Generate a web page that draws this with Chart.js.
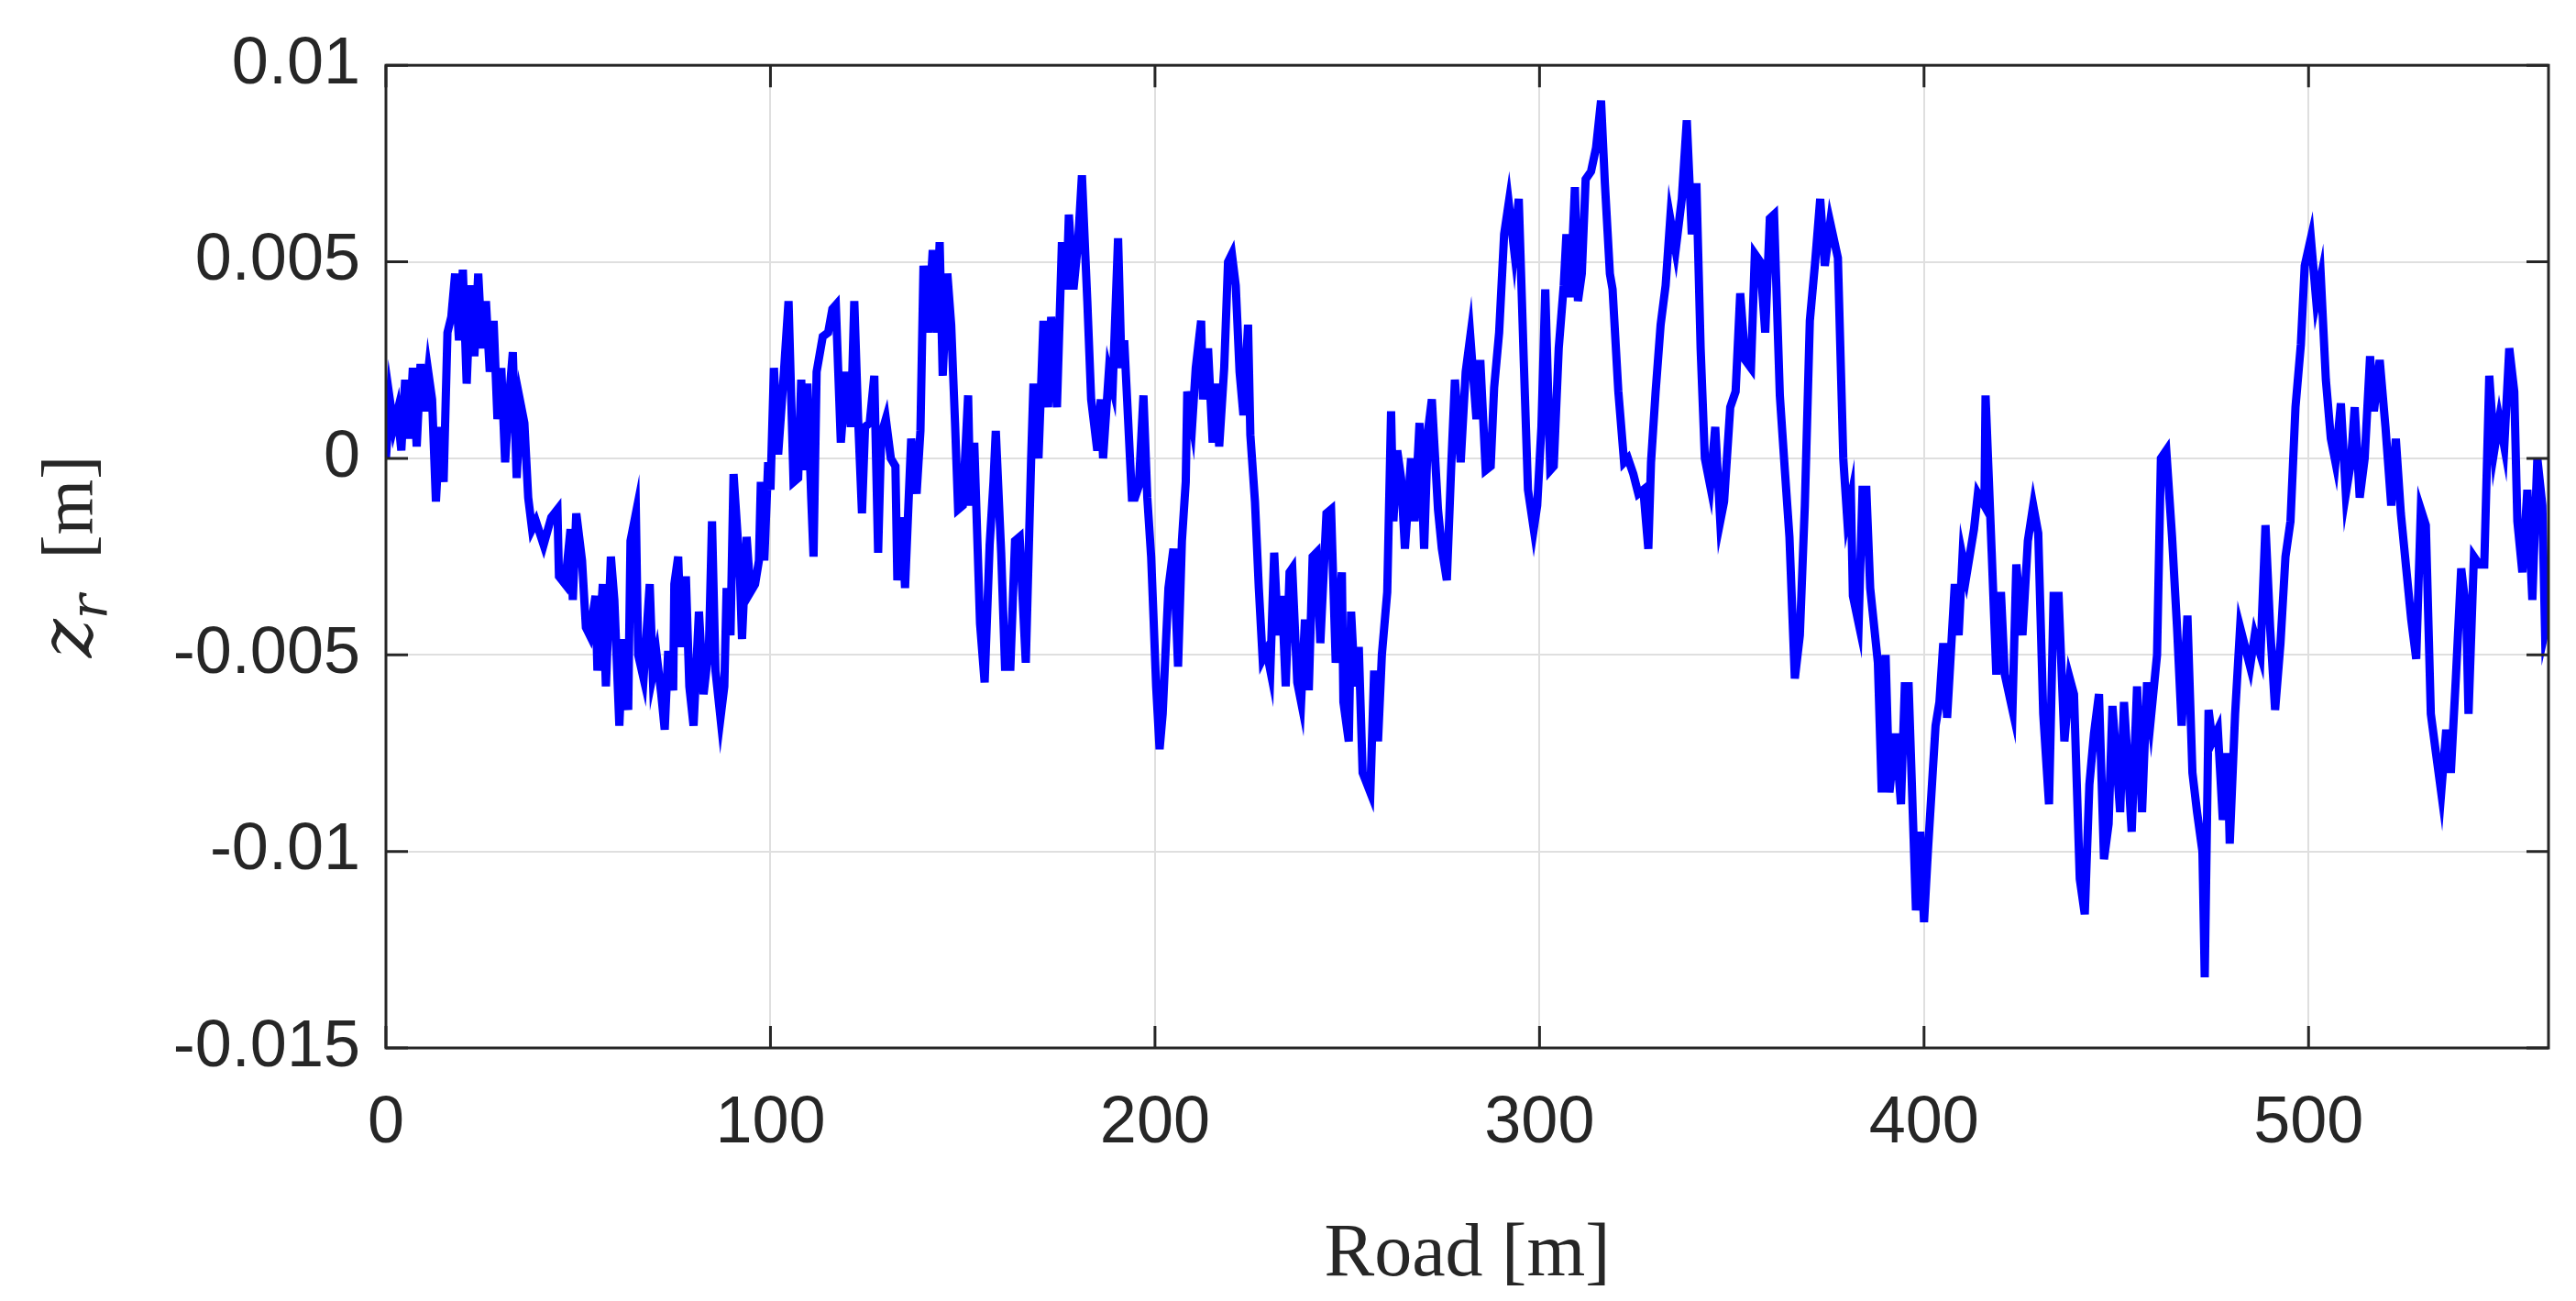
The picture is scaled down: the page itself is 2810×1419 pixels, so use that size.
<!DOCTYPE html>
<html>
<head>
<meta charset="utf-8">
<script src="https://cdn.jsdelivr.net/npm/chart.js@4.4.1/dist/chart.umd.min.js"></script>
<style>
  html, body { margin: 0; padding: 0; background: #fff; }
  #wrap { width: 2810px; height: 1419px; }
</style>
</head>
<body>
<div id="wrap"><canvas id="roadChart"></canvas></div>
<script>
// road position [m]
var roadX = [0,1,2,3,4,5,6,7,8,9,10,11,12,13,14,15,16,17,18,19,20,21,22,23,24,25,26,27,28,29,30,31,32,33,34,35,36,37,38,39,41,43,44.6,45,46.6,48,48.6,49.5,51,52,53,54.5,55,56.4,57.2,58.5,59.4,60.7,61.6,63,63.6,65,65.6,67,68.6,69.4,70.4,71.6,72.5,73.4,74.7,75,76,76.8,78,78.9,80,81.4,82.6,84,84.8,85.7,87,88,88.6,89.6,90.4,91.4,92.1,92.6,93.8,94.8,96,97,97.5,98.4,99.4,100,100.9,102,103.3,104.7,106,107.2,108,108.8,109.6,110.6,111.2,112,113.6,115,116.1,117,118.3,119.7,120.9,121.8,122.8,123.8,124.6,125.8,127,128,128.8,130,131.3,132.5,133,134.2,135,136,136.6,138,139,139.8,141,142.2,143.2,144,144.8,146,147,148,148.8,150,151.4,152,153,154.5,155.7,157,158,158.6,160,161,162.4,163.6,164.8,166.4,167.8,168.4,169.7,171,172.2,173,174.5,175.8,177,177.6,178.8,180,181,182.4,183.4,185,185.9,186.5,188,189,190.4,191.3,192,193,194,194.8,195.8,197,198,199,199.6,200.3,201.2,202,203.5,204.8,206,207,208,208.4,209.7,210.6,212,212.5,213.8,215,215.7,216.7,218,219,220,221,222,223,224.2,224.8,226,227,228,229,230,231,232,233,234,235,235.7,237,238,239,240,241,242,243,244.6,245.8,247,248.6,249,250.4,251,252,253,254,256,257,258,259,260.4,261.4,262,263,264,265,266.6,267.5,268.8,270,271,272,273.6,274.6,275.9,277,278,279.5,280.8,282,283.6,284.6,286,287.3,288.2,289.5,290.8,292,293.4,294.6,295.9,297,298.5,299.4,300.5,301.5,302.8,303.7,305,306.3,307,308,309.2,310,311,312,313.4,314.7,316,317,318.3,319,320.5,322,323,324.4,325.7,327,328.3,329,330.2,331.5,332.8,334,335.4,337,338.3,339.6,340.8,341.9,343,344.4,345.7,347,348,349.6,351,352.2,353.5,355,356,357.4,358.7,359.9,361,362.5,363.8,365,366.4,367.7,369,370.3,371.6,373,374.2,375.6,377.6,379,380,381,381.5,383,384,385,386,388,389,390,391,392.6,394,395,396,397.9,399,400,401,403,404,405,406,408,409,410,411,413,414,415.7,416,417.6,418.8,420,421,423,424,425.6,427,428.4,429.7,431,432.5,433.7,435,436.5,437.9,439,440.5,441.8,443,444.2,445.5,446.8,448,449,451,452,453,454,455.4,456.7,458,459,460.6,461.6,463,464.5,465.8,467,468.5,469.8,471,472.4,473,474,475,476.4,477.7,478.9,479.5,480.9,482.2,483.5,484.8,486,487.5,488.8,490,491.3,492.7,494,495.3,496.6,498,499,500.6,502,503.2,504.5,505.8,507,508.4,509.7,511,512,513.3,514.6,516,517,518.5,520,521.5,522.7,524,525.4,526.7,528,529.2,530.5,531.8,533,534.5,535.8,537,538.3,539.7,541,541.6,543,544.4,545.7,547,548.3,549.6,550.9,552.2,553.5,554.3,555.6,556.9,558.2,559.5,560.8,561.5,562.4];

// road profile z_r [m]
var roadZ = [0,0.0015,0.0008,0.0012,0.0002,0.002,0.0005,0.0023,0.0003,0.0024,0.0012,0.0022,0.0015,-0.0011,0.0008,-0.0006,0.0032,0.0036,0.0047,0.003,0.0048,0.0019,0.0044,0.0026,0.0047,0.0028,0.004,0.0022,0.0035,0.001,0.0023,-0.0001,0.0015,0.0027,-0.0005,0.0014,0.0009,-0.001,-0.0018,-0.0016,-0.0022,-0.0015,-0.0013,-0.003,-0.0032,-0.0018,-0.0036,-0.0014,-0.0026,-0.0043,-0.0045,-0.0035,-0.0054,-0.0032,-0.0058,-0.0025,-0.0036,-0.0068,-0.0046,-0.0064,-0.0021,-0.0014,-0.005,-0.0056,-0.0032,-0.0055,-0.005,-0.006,-0.0069,-0.0049,-0.0059,-0.0032,-0.0025,-0.0048,-0.003,-0.0058,-0.0068,-0.0039,-0.006,-0.0048,-0.0016,-0.0054,-0.0066,-0.0058,-0.0033,-0.0045,-0.0004,-0.0019,-0.0031,-0.0046,-0.002,-0.0034,-0.0032,-0.0026,-0.0006,-0.0026,-0.0001,-0.0008,0.0023,0.0001,0.0019,0.004,-0.0006,-0.0005,0.002,-0.0003,0.0019,-0.001,-0.0025,0.0022,0.0031,0.0032,0.0038,0.0039,0.0004,0.0022,0.0008,0.004,0.001,-0.0014,0.0008,0.0009,0.0021,-0.0024,0.0006,0.001,0,-0.0002,-0.0031,-0.0015,-0.0033,-0.0009,0.0005,-0.0009,0.0007,0.0049,0.0032,0.0053,0.0032,0.0055,0.0021,0.0047,0.0034,0.0009,-0.0013,-0.0012,0.0016,-0.0012,0.0004,-0.0042,-0.0057,-0.0022,-0.0006,0.0007,-0.0024,-0.0053,-0.0053,-0.0021,-0.002,-0.0052,0,0.0019,0,0.0035,0.0013,0.0036,0.0013,0.0055,0.0043,0.0062,0.0043,0.0055,0.0072,0.004,0.0015,0.0002,0.0015,0,0.0022,0.0018,0.0056,0.0023,0.003,0.001,-0.001,-0.001,-0.0007,0.0016,-0.001,-0.0025,-0.004,-0.0058,-0.0074,-0.0065,-0.0033,-0.0023,-0.0053,-0.0021,-0.0006,0.0017,0.0009,0.0023,0.0035,0.0015,0.0028,0.0004,0.0019,0.0003,0.0023,0.005,0.0052,0.0044,0.0022,0.0011,0.0034,0.0006,-0.0011,-0.0033,-0.0051,-0.0049,-0.0054,-0.0024,-0.0045,-0.0035,-0.0058,-0.0029,-0.0028,-0.0057,-0.0062,-0.0041,-0.0059,-0.0025,-0.0024,-0.0047,-0.0014,-0.0013,-0.0052,-0.0029,-0.0062,-0.0072,-0.0039,-0.0058,-0.0048,-0.008,-0.0085,-0.0054,-0.0072,-0.005,-0.0034,0.0012,-0.0016,0.0002,-0.0005,-0.0023,0,-0.0016,0.0009,-0.0023,0.0007,0.0015,-0.0013,-0.0023,-0.0031,-0.0003,0.002,-0.0001,0.0022,0.0031,0.001,0.0025,-0.0003,-0.0002,0.0018,0.0032,0.0057,0.0065,0.0053,0.0066,0.0025,-0.0008,-0.0018,-0.0012,0.0008,0.0043,-0.0003,-0.0002,0.0028,0.0044,0.0057,0.0041,0.0069,0.004,0.0047,0.0071,0.0073,0.0079,0.0091,0.007,0.0047,0.0043,0.0017,-0.0001,0,-0.0004,-0.0009,-0.0008,-0.0023,-0.0001,0.0017,0.0034,0.0044,0.0061,0.0053,0.0066,0.0086,0.0057,0.007,0.0028,0,-0.0007,0.0008,-0.0016,-0.0011,0.0013,0.0017,0.0042,0.0025,0.0023,0.0052,0.005,0.0032,0.0061,0.0062,0.0016,-0.0003,-0.002,-0.0056,-0.0045,-0.0012,0.0035,0.0049,0.0066,0.0049,0.006,0.0051,0,-0.0015,-0.001,-0.0035,-0.0042,-0.0008,-0.0008,-0.0033,-0.0052,-0.0085,-0.005,-0.0085,-0.007,-0.0088,-0.0058,-0.0058,-0.0115,-0.0095,-0.0118,-0.01,-0.0068,-0.0062,-0.0047,-0.0066,-0.0032,-0.0045,-0.0025,-0.003,-0.0018,-0.0009,-0.0012,0.0016,-0.0024,-0.0055,-0.0034,-0.0055,-0.0064,-0.0027,-0.0045,-0.0021,-0.0012,-0.0019,-0.0065,-0.0088,-0.0035,-0.0035,-0.0072,-0.0056,-0.006,-0.0107,-0.0116,-0.0083,-0.007,-0.006,-0.0102,-0.0093,-0.0063,-0.009,-0.0062,-0.0078,-0.0095,-0.0058,-0.009,-0.0057,-0.0066,-0.005,0,0.0002,-0.002,-0.0043,-0.0068,-0.004,-0.008,-0.009,-0.01,-0.0132,-0.0064,-0.0072,-0.0069,-0.0092,-0.0075,-0.0098,-0.0065,-0.0043,-0.0048,-0.0053,-0.0045,-0.005,-0.0017,-0.0043,-0.0064,-0.0047,-0.0025,-0.0016,0.0013,0.0029,0.0049,0.0056,0.004,0.0046,0.002,0.0005,-0.0001,0.0014,-0.0009,-0.0001,0.0013,-0.001,0,0.0026,0.0012,0.0025,0.0008,-0.0012,0.0005,-0.0014,-0.0028,-0.0041,-0.0051,-0.0013,-0.0017,-0.0065,-0.0074,-0.0085,-0.0069,-0.008,-0.0056,-0.0028,-0.0039,-0.0065,-0.0025,-0.0027,-0.0027,0.0021,0.0002,0.001,0.0003,0.0028,0.0017,-0.0016,-0.0029,-0.0008,-0.0036,0,-0.0012,-0.0044,-0.004];

var xTicks = [0, 100, 200, 300, 400, 500];
var yTickLabels = ['-0.015', '-0.01', '-0.005', '0', '0.005', '0.01'];
var yTickValues = [-0.015, -0.01, -0.005, 0, 0.005, 0.01];

var points = roadX.map(function (x, i) { return { x: x, y: roadZ[i] }; });

var frameBox = {
    id: 'frameBox',
    afterDraw: function (chart) {
        var a = chart.chartArea, ctx = chart.ctx;
        ctx.save();
        ctx.strokeStyle = '#262626';
        ctx.lineWidth = 3;
        ctx.strokeRect(a.left, a.top, a.right - a.left, a.bottom - a.top);
        // inner tick marks
        ctx.beginPath();
        var sx = chart.scales.x, sy = chart.scales.y;
        xTicks.forEach(function (t) {
            var px = sx.getPixelForValue(t);
            ctx.moveTo(px, a.bottom); ctx.lineTo(px, a.bottom - 24);
            ctx.moveTo(px, a.top); ctx.lineTo(px, a.top + 24);
        });
        yTickValues.forEach(function (t) {
            var py = sy.getPixelForValue(t);
            ctx.moveTo(a.left, py); ctx.lineTo(a.left + 24, py);
            ctx.moveTo(a.right, py); ctx.lineTo(a.right - 24, py);
        });
        ctx.stroke();
        // y axis title: z_r [m]
        ctx.translate(72, (a.top + a.bottom) / 2);
        ctx.rotate(-Math.PI / 2);
        ctx.fillStyle = '#262626';
        ctx.textBaseline = 'alphabetic';
        ctx.font = 'italic 80px "DejaVu Serif"';
        var w1 = ctx.measureText('z').width;
        ctx.font = 'italic 56px "DejaVu Serif"';
        var w2 = ctx.measureText('r').width;
        ctx.font = '78px "Liberation Serif"';
        var w3 = ctx.measureText('  [m]').width;
        var start = -(w1 + w2 + w3) / 2;
        ctx.font = 'italic 80px "DejaVu Serif"';
        ctx.fillText('z', start, 28);
        ctx.font = 'italic 56px "DejaVu Serif"';
        ctx.fillText('r', start + w1, 44);
        ctx.font = '78px "Liberation Serif"';
        ctx.fillText('  [m]', start + w1 + w2, 28);
        ctx.restore();
    }
};

var ctx = document.getElementById('roadChart').getContext('2d');
var myChart = new Chart(ctx, {
    type: 'line',
    data: {
        datasets: [{
            data: points,
            borderColor: '#0000ff',
            borderWidth: 9,
            pointRadius: 0,
            tension: 0,
            fill: false
        }]
    },
    options: {
        responsive: true,
        maintainAspectRatio: false,
        animation: false,
        devicePixelRatio: 1,
        layout: { padding: { left: 0, top: 66, right: 30, bottom: 0 } },
        plugins: { legend: { display: false }, tooltip: { enabled: false } },
        scales: {
            x: {
                type: 'linear',
                min: 0,
                max: 562.4,
                afterBuildTicks: function (scale) {
                    scale.ticks = xTicks.map(function (v) { return { value: v }; });
                },
                afterFit: function (scale) { scale.height = 276; },
                grid: { color: '#dfdfdf', lineWidth: 2, drawTicks: false },
                border: { display: false },
                ticks: {
                    color: '#262626',
                    padding: 40,
                    font: { family: 'Liberation Sans', size: 72 },
                    maxRotation: 0
                },
                title: {
                    display: true,
                    text: 'Road [m]',
                    color: '#262626',
                    padding: { top: 0, bottom: 0 },
                    font: { family: 'Liberation Serif', size: 82 }
                }
            },
            y: {
                min: -0.015,
                max: 0.01,
                afterBuildTicks: function (scale) {
                    scale.ticks = yTickValues.map(function (v) { return { value: v }; });
                },
                afterFit: function (scale) { scale.width = 421; },
                grid: { color: '#dfdfdf', lineWidth: 2, drawTicks: false },
                border: { display: false },
                ticks: {
                    color: '#262626',
                    padding: 28,
                    font: { family: 'Liberation Sans', size: 72 },
                    callback: function (v) {
                        return yTickLabels[yTickValues.indexOf(v)];
                    }
                }
            }
        }
    },
    plugins: [frameBox]
});
</script>
</body>
</html>
